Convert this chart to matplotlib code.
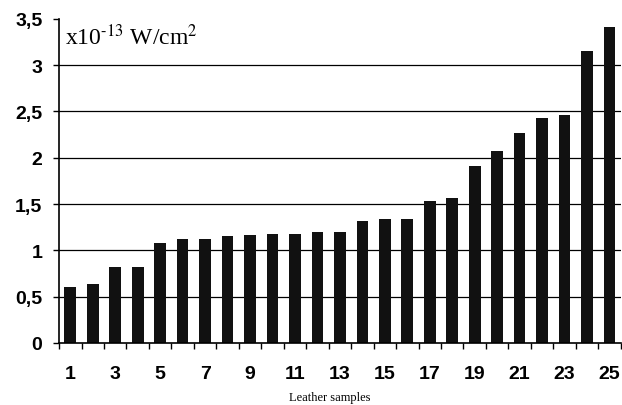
import numpy as np
import matplotlib.pyplot as plt
from matplotlib.ticker import FixedLocator

plt.rcParams['font.family'] = ['Liberation Sans', 'DejaVu Sans']
plt.rcParams['mathtext.fontset'] = 'stix'

# 皮革样本编号与数值 (x10^-13 W/cm^2)
samples = np.arange(1, 26)
values = [0.60, 0.64, 0.82, 0.82, 1.08, 1.12, 1.12, 1.16, 1.17, 1.18,
          1.18, 1.20, 1.20, 1.32, 1.34, 1.34, 1.53, 1.56, 1.91, 2.07,
          2.27, 2.43, 2.46, 3.15, 3.41]
x_labels = [str(i) for i in range(1, 26, 2)]
y_ticks = [0, 0.5, 1, 1.5, 2, 2.5, 3, 3.5]
y_labels = ['0', '0,5', '1', '1,5', '2', '2,5', '3', '3,5']

fig = plt.figure(figsize=(6.22, 4.06), dpi=100)
ax = fig.add_axes([0.095, 0.153, 0.903, 0.798])

# 网格线
for y in y_ticks[1:-1]:
    ax.axhline(y, color='black', linewidth=0.9, zorder=1)

ax.bar(samples, values, width=0.52, color='#111111', zorder=2)

ax.set_xlim(0.5, 25.5)
ax.set_ylim(0, 3.5)

ax.set_xticks(list(range(1, 26, 2)))
ax.set_xticklabels(x_labels, fontsize=14, fontweight='bold')
ax.xaxis.set_minor_locator(FixedLocator(np.arange(0.5, 26, 1)))
ax.tick_params(axis='x', which='major', length=0, pad=16)
ax.tick_params(axis='x', which='minor', length=4, width=1, direction='out')

ax.set_yticks(y_ticks)
ax.set_yticklabels(y_labels, fontsize=14, fontweight='bold')
ax.tick_params(axis='y', length=4, width=1, pad=8)

for s in ['top', 'right']:
    ax.spines[s].set_visible(False)
for s in ['left', 'bottom']:
    ax.spines[s].set_linewidth(1.2)

ax.text(0.01, 0.985, r'x10$^{\text{-13}}$ W/cm$^{2}$', transform=ax.transAxes,
        fontsize=17, family='Liberation Serif', va='top', ha='left')
fig.text(0.53, 0.005, 'Leather samples', fontsize=9, family='Liberation Serif',
         ha='center', va='bottom')

plt.savefig('out.png', dpi=100)
